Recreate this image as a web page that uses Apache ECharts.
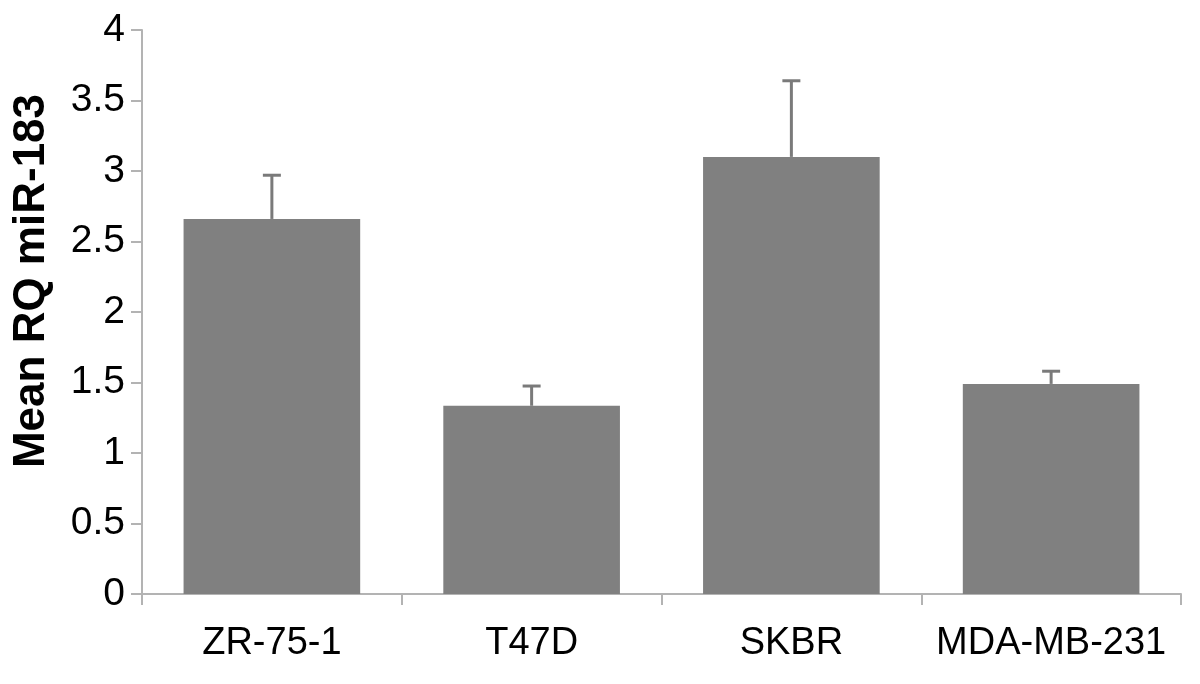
<!DOCTYPE html>
<html>
<head>
<meta charset="utf-8">
<script src="https://cdn.jsdelivr.net/npm/echarts@6/dist/echarts.min.js"></script>
<style>
html,body{margin:0;padding:0;background:#fff;}
#chart{width:1200px;height:684px;}
</style>
</head>
<body>
<div id="chart"></div>
<script>
const categories = ['ZR-75-1', 'T47D', 'SKBR', 'MDA-MB-231'];
const meanValues = [2.66, 1.335, 3.10, 1.49];
const errorValues = [0.31, 0.14, 0.54, 0.09];
const yTicks = [0, 0.5, 1, 1.5, 2, 2.5, 3, 3.5, 4];
const yTitle = 'Mean RQ miR-183';

const FONT = "'Liberation Sans', Arial, sans-serif";
const errData = categories.map((c, i) => [i, meanValues[i], meanValues[i] + errorValues[i]]);

const chart = echarts.init(document.getElementById('chart'), null, {renderer: 'canvas'});
chart.setOption({
  backgroundColor: '#ffffff',
  animation: false,
  grid: {left: 142, right: 19, top: 30, bottom: 90, containLabel: false},
  xAxis: {
    type: 'category',
    data: categories,
    axisLine: {show: true, lineStyle: {color: '#b3b3b3', width: 2}},
    axisTick: {show: true, length: 11, interval: 0, alignWithLabel: false, lineStyle: {color: '#b3b3b3', width: 2}},
    axisLabel: {color: '#000', fontFamily: FONT, fontSize: 38, margin: 31, interval: 0}
  },
  yAxis: {
    type: 'value',
    min: yTicks[0],
    max: yTicks[yTicks.length - 1],
    interval: 0.5,
    splitLine: {show: false},
    axisLine: {show: true, lineStyle: {color: '#b3b3b3', width: 2}},
    axisTick: {show: true, length: 11, lineStyle: {color: '#b3b3b3', width: 2}},
    axisLabel: {color: '#000', fontFamily: FONT, fontSize: 39, margin: 17,
      formatter: v => String(v)}
  },
  graphic: [{
    type: 'text',
    x: 32, y: 281,
    rotation: Math.PI / 2,
    style: {
      text: yTitle,
      fill: '#000',
      font: "bold 44px 'Liberation Sans', Arial, sans-serif",
      textAlign: 'center',
      textVerticalAlign: 'middle'
    }
  }],
  series: [
    {
      type: 'bar',
      data: meanValues,
      barCategoryGap: '32%',
      itemStyle: {color: '#808080'},
      z: 2
    },
    {
      type: 'custom',
      data: errData,
      z: 3,
      renderItem: function (params, api) {
        const idx = api.value(0);
        const low = api.coord([idx, api.value(1)]);
        const high = api.coord([idx, api.value(2)]);
        const half = 9;
        const style = {stroke: '#7a7a7a', lineWidth: 3};
        return {
          type: 'group',
          children: [
            {type: 'line', shape: {x1: high[0], y1: low[1], x2: high[0], y2: high[1]}, style: style},
            {type: 'line', shape: {x1: high[0] - half, y1: high[1], x2: high[0] + half, y2: high[1]}, style: style}
          ]
        };
      }
    }
  ]
});
</script>
</body>
</html>
